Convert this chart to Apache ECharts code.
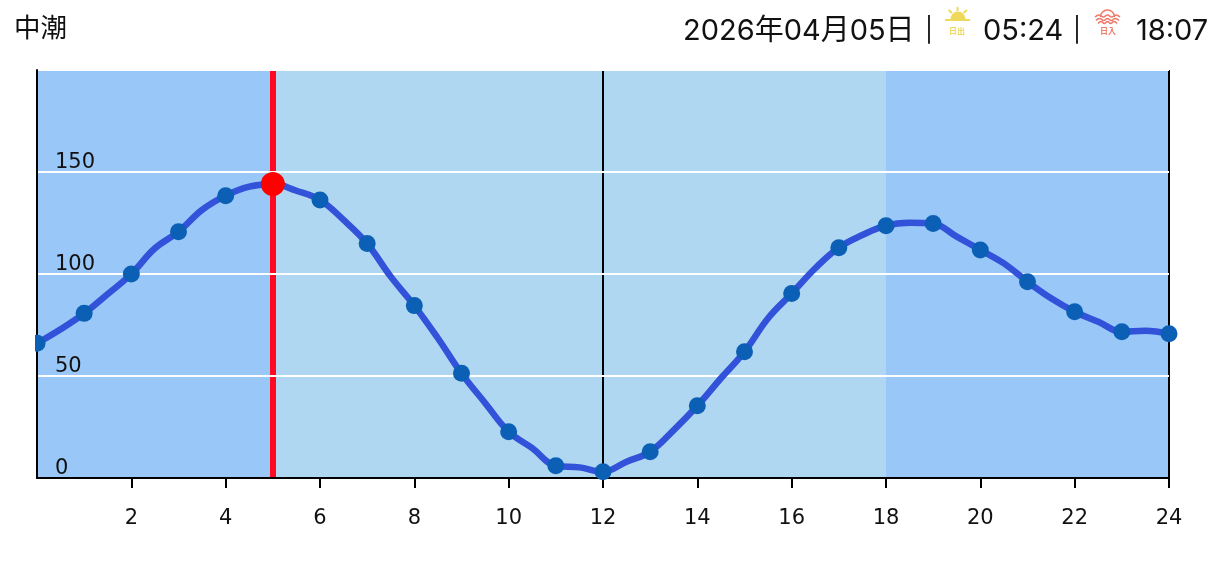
<!DOCTYPE html>
<html><head><meta charset="utf-8">
<style>html,body{margin:0;padding:0;background:#fff}#c{width:1230px;height:563px}</style>
<script src="https://cdn.jsdelivr.net/npm/echarts@6/dist/echarts.min.js"></script>
</head><body><div id="c"></div>
<script>
const hours = [0,0.5,1,1.5,2,2.5,3,3.5,4,4.5,5,5.5,6,6.5,7,7.5,8,8.5,9,9.5,10,10.5,11,11.5,12,12.5,13,13.5,14,14.5,15,15.5,16,16.5,17,17.5,18,18.5,19,19.5,20,20.5,21,21.5,22,22.5,23,23.5,24];
const tide = [66,72.9,80.7,90.2,100,112.6,120.7,131.4,138.4,142.8,144.1,140.8,136.3,126.5,114.9,98.7,84.5,68.5,51.3,36.8,22.7,14.6,6,5.2,3.1,8,12.9,23.5,35.4,48.9,61.9,78.3,90.4,102.8,112.9,119.1,123.7,125.1,124.7,118.3,111.8,105.2,96.2,88.1,81.5,76.6,71.7,72.2,70.7];
const nowHour = 5;
const nowTide = 144.1;
const noonHour = 12;
const dayBand = [5, 18];
const xTicks = [2,4,6,8,10,12,14,16,18,20,22,24];
const titleText = '中潮';
const dateText = '2026年04月05日';
const sunriseText = '05:24';
const sunsetText = '18:07';
const sep = '|';
const sunriseTag = '日出';
const sunsetTag = '日入';
const jp = 'Inter,"Noto Sans CJK JP",sans-serif';
const chart = echarts.init(document.getElementById('c'), null, {renderer:'canvas'});
const txt = (x,text,size,y=34) => ({type:'text',left:x,top:y-size*0.6,silent:true,style:{text,font:`400 ${size}px ${jp}`,fill:'#111'}});
const sunY='#efd95a', setC='#ee7a6a';
const wave = (x0,x1,y,w) => {const n=6,p=[];for(let i=0;i<=n;i++)p.push([x0+(x1-x0)*i/n,y+(i%2?-1:1)]);return {type:'polyline',silent:true,shape:{points:p,smooth:0.5},style:{stroke:setC,fill:'none',lineWidth:w}};};
chart.setOption({
  animation:false,
  backgroundColor:'#fff',
  grid:{left:37,right:61,top:70,bottom:85},
  xAxis:{type:'value',min:0,max:24,interval:2,z:2,
    axisLine:{show:true,onZero:false,lineStyle:{color:'#000',width:2}},
    axisTick:{show:true,length:10,customValues:xTicks,lineStyle:{color:'#000',width:2}},
    axisLabel:{show:true,showMinLabel:false,margin:30,fontSize:21,fontFamily:'"DejaVu Sans"',color:'#111'},
    splitLine:{show:false}},
  yAxis:{type:'value',min:0,max:200,interval:50,z:2,
    axisLine:{show:true,lineStyle:{color:'#000',width:2}},
    axisTick:{show:false},
    axisLabel:{inside:true,showMaxLabel:false,margin:18,fontSize:21,fontFamily:'"DejaVu Sans"',color:'#111',verticalAlign:'bottom',lineHeight:18},
    splitLine:{show:true,lineStyle:{color:'#fff',width:2}}},
  series:[
   {type:'line',z:0,data:[],silent:true,
    markArea:{silent:true,z:0,itemStyle:{color:'#b0d7f1'},data:[[{xAxis:dayBand[0]},{xAxis:dayBand[1]}]]},
    markLine:{silent:true,symbol:'none',animation:false,z:1,label:{show:false},
      data:[{xAxis:noonHour,lineStyle:{color:'#000',width:2,type:'solid'}},
            {xAxis:nowHour,lineStyle:{color:'#ff0a22',width:6,type:'solid'}}]}},
   {type:'line',z:3,smooth:0.4,clip:true,
    data:hours.map((h,i)=>[h,tide[i]]),
    showSymbol:true,showAllSymbol:true,symbol:'circle',
    symbolSize:v=>Number.isInteger(v[0])?17:0,
    itemStyle:{color:'#0b60b5'},
    lineStyle:{color:'#3252da',width:6.5}},
   {type:'scatter',z:5,data:[[nowHour,nowTide]],symbol:'circle',symbolSize:24,itemStyle:{color:'#ff0000',opacity:1},silent:true}
  ],
  graphic:{elements:[
    {type:'rect',z:-1,silent:true,shape:{x:37,y:70,width:1132,height:408},style:{fill:'#98c7f8'}},
    {type:'line',silent:true,z:2,shape:{x1:38,y1:70,x2:1168,y2:70},style:{stroke:'#eeeeee',lineWidth:2}},
    {type:'line',silent:true,z:2,shape:{x1:1169,y1:70,x2:1169,y2:478},style:{stroke:'#000',lineWidth:2}},
    {type:'rect',silent:true,z:9,shape:{x:0,y:300,width:35,height:80},style:{fill:'#fff'}},
    txt(14,titleText,26.5,32),
    txt(683,dateText,29),
    txt(925,sep,24,33),
    txt(983,sunriseText,29),
    txt(1073,sep,24,33),
    txt(1136,sunsetText,29),
    // sunrise icon
    {type:'sector',silent:true,shape:{cx:958,cy:19,r:7.5,startAngle:Math.PI,endAngle:2*Math.PI},style:{fill:sunY}},
    {type:'rect',silent:true,shape:{x:945,y:19,width:25,height:2},style:{fill:sunY}},
    {type:'line',silent:true,shape:{x1:957.5,y1:7,x2:957.5,y2:11},style:{stroke:sunY,lineWidth:2}},
    {type:'line',silent:true,shape:{x1:948.5,y1:10,x2:952,y2:13},style:{stroke:sunY,lineWidth:2}},
    {type:'line',silent:true,shape:{x1:967,y1:10,x2:963.5,y2:13},style:{stroke:sunY,lineWidth:2}},
    {type:'text',silent:true,left:949,top:27,style:{text:sunriseTag,font:`700 8px "Noto Sans CJK JP"`,fill:sunY}},
    // sunset icon
    {type:'arc',silent:true,shape:{cx:1107.5,cy:17,r:7,startAngle:Math.PI,endAngle:2*Math.PI},style:{stroke:setC,fill:'none',lineWidth:1.5}},
    wave(1095,1120,16,1.6),
    wave(1096,1119,19.5,1.5),
    wave(1098,1117,22.5,1.5),
    {type:'text',silent:true,left:1100,top:27,style:{text:sunsetTag,font:`700 8px "Noto Sans CJK JP"`,fill:setC}}
  ]}
});
</script></body></html>
